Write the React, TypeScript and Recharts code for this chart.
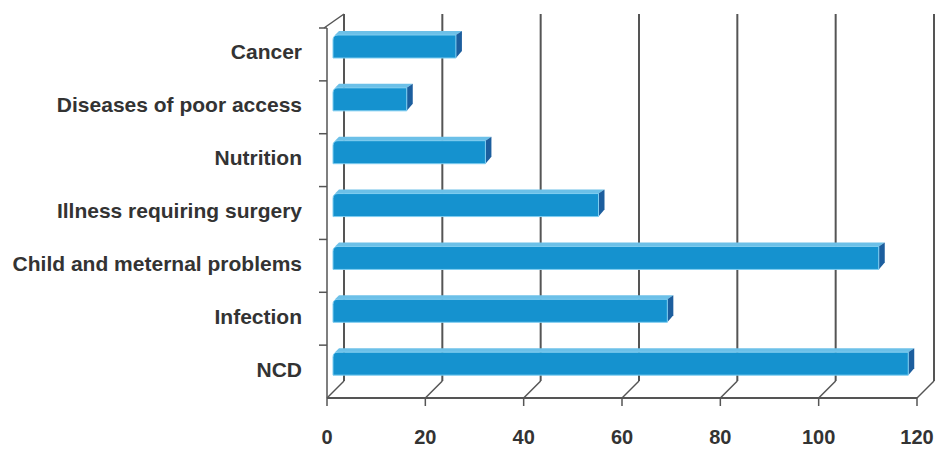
import React from 'react';
import { BarChart, Bar, XAxis, YAxis, CartesianGrid } from 'recharts';

const categories = [
    'Cancer',
    'Diseases of poor access',
    'Nutrition',
    'Illness requiring surgery',
    'Child and meternal problems',
    'Infection',
    'NCD',
];
const counts = [25, 15, 31, 54, 111, 68, 117];
const xTicks = [0, 20, 40, 60, 80, 100, 120];

const data = categories.map((name, i) => ({ name, count: counts[i] }));

const W = 940;
const H = 450;
const xAxisHeight = 52;
const margin = { top: 28, right: 23, left: 0, bottom: 0 };
const band = (H - margin.top - margin.bottom - xAxisHeight) / categories.length;

// depth offsets for the fake 3d look
const backDx = 17;
const barDx = 6;
const barDy = -8;
const lineColor = '#555';
const textColor = '#333';
const font = '"Liberation Sans", Arial, sans-serif';

const gridLine = (props: any) => {
    const { x1, y1, y2, index } = props;
    const bx = x1 + backDx;
    return (
        <g key={`grid-${index}`}>
            <line x1={bx} y1={y1 - 14} x2={bx} y2={y2 - 17} stroke={lineColor} strokeWidth={2} />
            <line x1={bx} y1={y2 - 17} x2={x1} y2={y2} stroke={lineColor} strokeWidth={1.5} />
            {index === 0 && (
                <line x1={x1 - 3} y1={y1} x2={bx} y2={y1 - 14} stroke={lineColor} strokeWidth={1.5} />
            )}
        </g>
    );
};

const BarShape = (props: any) => {
    const { x, y, width, height } = props;
    if (!width || width <= 0) return null;
    const fx = x + barDx;
    const fy = y + barDy;
    const d = 6;
    const up = 4;
    const r = 5;
    return (
        <g>
            <polygon
                points={`${fx + 2},${fy} ${fx + d},${fy - up} ${fx + width + d},${fy - up} ${fx + width},${fy}`}
                fill="#6cc0e8"
            />
            <polygon
                points={`${fx + width},${fy} ${fx + width + d},${fy - up} ${fx + width + d},${fy + height - up - 3} ${fx + width},${fy + height}`}
                fill="#1c5e9e"
            />
            <path
                d={`M${fx},${fy + height} L${fx},${fy + r} Q${fx},${fy} ${fx + r},${fy} L${fx + width},${fy} L${fx + width},${fy + height} Z`}
                fill="#1592cf"
                stroke="#7fcdf0"
                strokeWidth={1}
            />
        </g>
    );
};

const YTick = (props: any) => {
    const { x, y, payload } = props;
    const ax = x + 8;
    return (
        <g>
            <line x1={ax - 8} y1={y - band / 2} x2={ax} y2={y - band / 2} stroke={lineColor} strokeWidth={1.5} />
            <text x={ax - 25} y={y + 5} textAnchor="end" fill={textColor}
                style={{ fontFamily: font, fontWeight: 'bold', fontSize: 21 }}>
                {payload.value}
            </text>
        </g>
    );
};

const XTick = (props: any) => {
    const { x, y, payload } = props;
    return (
        <text x={x} y={y + 36} textAnchor="middle" fill={textColor}
            style={{ fontFamily: font, fontWeight: 'bold', fontSize: 20 }}>
            {payload.value}
        </text>
    );
};

export default function App() {
    return (
        <div style={{ position: 'absolute', left: 0, top: 0, width: W, height: H, background: '#fff' }}>
            <BarChart width={W} height={H} data={data} layout="vertical" margin={margin} barCategoryGap={0}>
                <CartesianGrid horizontal={false} vertical={gridLine} />
                <XAxis
                    type="number"
                    domain={[0, 120]}
                    ticks={xTicks}
                    height={xAxisHeight}
                    interval={0}
                    axisLine={{ stroke: lineColor, strokeWidth: 2 }}
                    tickLine={{ stroke: lineColor, strokeWidth: 1.5 }}
                    tickSize={8}
                    tick={<XTick />}
                />
                <YAxis
                    type="category"
                    dataKey="name"
                    width={327}
                    interval={0}
                    axisLine={{ stroke: lineColor, strokeWidth: 1.5 }}
                    tickLine={false}
                    tick={<YTick />}
                />
                <Bar dataKey="count" barSize={23} shape={<BarShape />} isAnimationActive={false} />
            </BarChart>
        </div>
    );
}
